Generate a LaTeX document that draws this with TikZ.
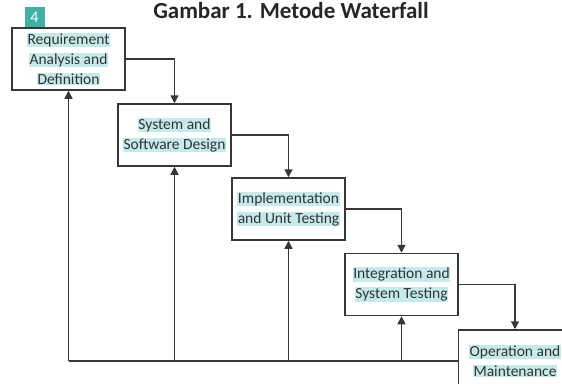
\documentclass[tikz,border=0pt]{standalone}
\usepackage{fontspec}
\setmainfont{Carlito}
\usepackage{xcolor}
\usetikzlibrary{positioning,arrows.meta,calc}
\definecolor{hlcyan}{RGB}{196,234,236}
\definecolor{badgeteal}{RGB}{62,176,168}
\definecolor{linegray}{RGB}{55,55,55}
\newcommand{\hl}[1]{{\setlength{\fboxsep}{0.6pt}\colorbox{hlcyan}{#1}}}

\begin{document}
\begin{tikzpicture}[x=1pt,y=-1pt,>={Triangle[width=8pt,length=8pt]},
                    font=\fontsize{15.5}{20}\selectfont]
  \tikzstyle{phase}=[draw=linegray, line width=1.5pt, fill=white,
                     minimum width=113pt, minimum height=62pt,
                     inner sep=0pt, align=center, text=black!80]
  \tikzstyle{flow}=[draw=linegray, line width=1.5pt]

  \useasboundingbox (0,0) rectangle (562,383);
  \clip (0,0) rectangle (562,383);

  % title and badge
  \node[font=\fontsize{23}{26}\bfseries\selectfont, anchor=base,
        text=black!85] (title) at (291,18) {Gambar 1. Metode Waterfall};
  \node[fill=badgeteal, text=white, minimum size=20pt, inner sep=0pt,
        font=\fontsize{16}{18}\selectfont] (badge) at (34.5,17) {4};

  % phases
  \node[phase] (req)  at (68.5,59)  {\hl{Requirement}\\\hl{Analysis and}\\\hl{Definition}};
  \node[phase] (des)  at (174.5,135) {\hl{System and}\\\hl{Software Design}};
  \node[phase] (impl) at (288.5,209) {\hl{Implementation}\\\hl{and Unit Testing}};
  \node[phase] (test) at (401.5,284.5) {\hl{Integration and}\\\hl{System Testing}};
  \node[phase] (ops)  at (515,361) {\hl{Operation and}\\\hl{Maintenance}};

  % forward flow
  \path[flow,->] (req.east)  -| (des.north);
  \path[flow,->] (des.east)  -| (impl.north);
  \path[flow,->] (impl.east) -| (test.north);
  \path[flow,->] (test.east) -| (ops.north);

  % feedback
  \coordinate (back) at (ops.west);
  \draw[linegray, line width=2pt] (back) -- (back -| req.south);
  \path[flow,->] (back -| req.south)  -- (req.south);
  \path[flow,->] (back -| des.south)  -- (des.south);
  \path[flow,->] (back -| impl.south) -- (impl.south);
  \path[flow,->] (back -| test.south) -- (test.south);
\end{tikzpicture}
\end{document}
